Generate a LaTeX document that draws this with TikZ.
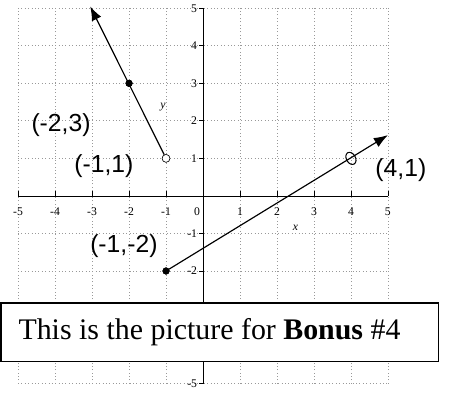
\documentclass[tikz,border=0pt]{standalone}
\usepackage{fontspec}
\setmainfont{Liberation Serif}
\newfontfamily\handfont{Liberation Sans}
\usetikzlibrary{arrows.meta, positioning, shapes.geometric}

\begin{document}
\begin{tikzpicture}[
    x=1cm, y=1.015cm,
    gridline/.style={gray!80, dotted, line width=0.6pt},
    axis/.style={black, line width=0.6pt},
    ticklabel/.style={font=\fontsize{9}{9}\selectfont, inner sep=1pt},
    hand/.style={font=\handfont\fontsize{19}{19}\selectfont, inner sep=0pt},
    dot/.style={circle, fill=black, draw, minimum size=5pt, inner sep=0pt},
    opendot/.style={circle, fill=white, draw, minimum size=6pt, inner sep=0pt},
    ring/.style={ellipse, draw, line width=0.8pt, minimum width=7pt, minimum height=10pt, inner sep=0pt, rotate=30},
    arrow/.style={line width=0.9pt, -{Latex[length=3.8mm, width=2.8mm]}},
    caption/.style={draw, line width=1.2pt, fill=white, inner xsep=0.48cm, inner ysep=0pt,
        text width=10.88cm, align=flush left, minimum height=1.58cm, font=\fontsize{23}{23}\selectfont}
]
\useasboundingbox (-5.49,-5.27) rectangle (6.76,5.22);

% Grid
\foreach \k in {-5,...,5} {
    \draw[gridline] (\k,-5) -- (\k,5);
    \draw[gridline] (-5,\k) -- (5,\k);
}

% Axes
\draw[axis] (-5,0) -- (5,0);
\draw[axis] (0,-5) -- (0,5);
\foreach \k in {-5,...,-1,1,2,3,4,5} {
    \draw[axis] (\k,0) -- (\k,0.12);
    \draw[axis] (-0.1,\k) -- (0,\k);
    \node[ticklabel] (xl\k) at (\k,-0.42) {\k};
}
\foreach \k in {-5,-2,-1,1,2,3,4,5}
    \node[ticklabel, anchor=east] (yl\k) at (-0.12,\k) {\k};
\node[ticklabel] (xl0) at (-0.16,-0.42) {0};
\node[ticklabel] (xname) at (2.5,-0.85) {\textit{x}};
\node[ticklabel] (yname) at (-1.08,2.37) {\textit{y}};

% First ray
\node[opendot] (a1) at (-1,1) {};
\node[dot] (a2) at (-2,3) {};
\coordinate (a3) at (-3.05,5.05);
\draw[arrow] (a1) -- (a3);
\node[dot] at (a2) {};
\node[opendot] at (a1) {};

% Second ray
\node[dot] (b1) at (-1,-2) {};
\node[ring] (b2) at (4,1) {};
\coordinate (b3) at (5,1.62);
\draw[arrow] (b1) -- (b3);
\node[dot] at (b1) {};

% Handwritten points
\node[hand] (la2) at (-3.84,1.89) {(-2,3)};
\node[hand] (la1) at (-2.68,0.8) {(-1,1)};
\node[hand] (lb1) at (-2.14,-1.33) {(-1,-2)};
\node[hand] (lb2) at (5.35,0.69) {(4,1)};

% Caption box
\node[caption, anchor=west] (box) at (-5.49,-3.63) {This is the picture for \textbf{Bonus} \#4};

\end{tikzpicture}
\end{document}
